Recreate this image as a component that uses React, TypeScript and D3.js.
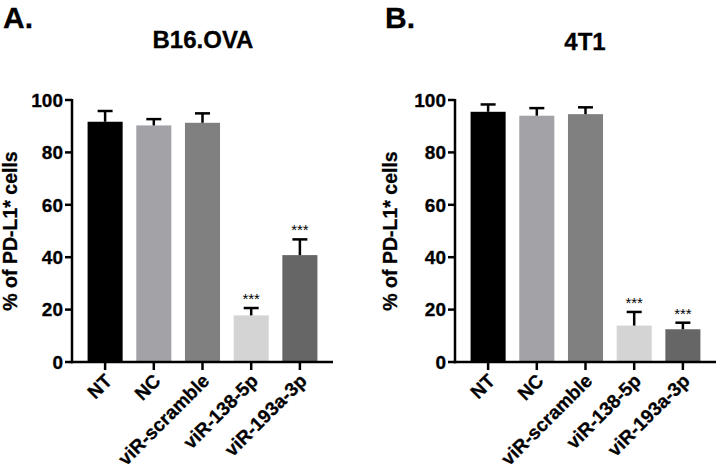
import React from "react";
import * as d3 from "d3";

const categories = ["NT", "NC", "viR-scramble", "viR-138-5p", "viR-193a-3p"];
const colors = ["#000000", "#a3a3a7", "#808080", "#d4d4d4", "#666666"];
const yTicks = [0, 20, 40, 60, 80, 100];

const b16Means = [91.7, 90.3, 91.3, 17.8, 40.8];
const b16Errors = [4.1, 2.4, 3.6, 2.8, 6.0];
const b16Stars = ["", "", "", "***", "***"];

const t41Means = [95.5, 94.0, 94.6, 13.9, 12.5];
const t41Errors = [2.8, 2.9, 2.6, 5.2, 2.5];
const t41Stars = ["", "", "", "***", "***"];

const FONT = "'Liberation Sans', Arial, Helvetica, sans-serif";

type PanelProps = {
  x0: number;
  letter: string;
  letterX: number;
  title: string;
  titleX: number;
  titleY: number;
  labelX: number;
  means: number[];
  errors: number[];
  stars: string[];
};

function Panel({ x0, letter, letterX, title, titleX, titleY, labelX, means, errors, stars }: PanelProps) {
  const axisLeft = x0;
  const axisRight = x0 + 261;
  const y = d3.scaleLinear().domain([0, 100]).range([362, 100]);
  const x = d3
    .scaleBand<string>()
    .domain(categories)
    .range([axisLeft, axisRight])
    .paddingInner(0.28)
    .paddingOuter(0.32);
  const bw = x.bandwidth();
  const capW = 15;
  const boldText = { fontFamily: FONT, fontWeight: "bold" as const, stroke: "#000", strokeWidth: 0.3 };
  return (
    <g>
      <text x={letterX} y={28} {...boldText} fontSize={30}>
        {letter}
      </text>
      <text x={titleX} y={titleY} textAnchor="middle" {...boldText} fontSize={24}>
        {title}
      </text>
      <text
        transform={`translate(${labelX},${y(50)}) rotate(-90)`}
        textAnchor="middle"
        {...boldText}
        fontSize={19.5}
      >
        % of PD-L1* cells
      </text>
      {categories.map((c, i) => {
        const bx = x(c)!;
        const cx = bx + bw / 2;
        const top = y(means[i]);
        const eTop = y(means[i] + errors[i]);
        return (
          <g key={c}>
            <rect x={bx} y={top} width={bw} height={y(0) - top} fill={colors[i]} />
            <line x1={cx} x2={cx} y1={top} y2={eTop} stroke="#000" strokeWidth={2.5} />
            <line x1={cx - capW / 2} x2={cx + capW / 2} y1={eTop} y2={eTop} stroke="#000" strokeWidth={2.5} />
            {stars[i] && (
              <text x={cx} y={eTop - 4} textAnchor="middle" fontFamily={FONT} fontSize={15}>
                {stars[i]}
              </text>
            )}
            <line x1={cx} x2={cx} y1={y(0)} y2={y(0) + 8} stroke="#000" strokeWidth={2.5} />
            <text
              transform={`translate(${cx + 8},${y(0) + 20}) rotate(-45)`}
              textAnchor="end"
              {...boldText}
              fontSize={19}
            >
              {c}
            </text>
          </g>
        );
      })}
      {yTicks.map((t) => (
        <g key={t}>
          <line x1={axisLeft - 7} x2={axisLeft} y1={y(t)} y2={y(t)} stroke="#000" strokeWidth={2.5} />
          <text x={axisLeft - 9} y={y(t)} dy="0.36em" textAnchor="end" {...boldText} fontSize={19}>
            {t}
          </text>
        </g>
      ))}
      <line x1={axisLeft} x2={axisLeft} y1={y(100) - 1} y2={y(0) + 1.25} stroke="#000" strokeWidth={2.5} />
      <line x1={axisLeft - 1.25} x2={axisRight} y1={y(0)} y2={y(0)} stroke="#000" strokeWidth={2.5} />
    </g>
  );
}

export default function App() {
  return (
    <svg width={716} height={470} style={{ position: "absolute", left: 0, top: 0, background: "#fff" }}>
      <rect width={716} height={470} fill="#fff" />
      <Panel
        x0={72}
        letter="A."
        letterX={3}
        title="B16.OVA"
        titleX={203}
        titleY={48}
        labelX={17}
        means={b16Means}
        errors={b16Errors}
        stars={b16Stars}
      />
      <Panel
        x0={455}
        letter="B."
        letterX={385}
        title="4T1"
        titleX={585}
        titleY={50}
        labelX={397}
        means={t41Means}
        errors={t41Errors}
        stars={t41Stars}
      />
    </svg>
  );
}
